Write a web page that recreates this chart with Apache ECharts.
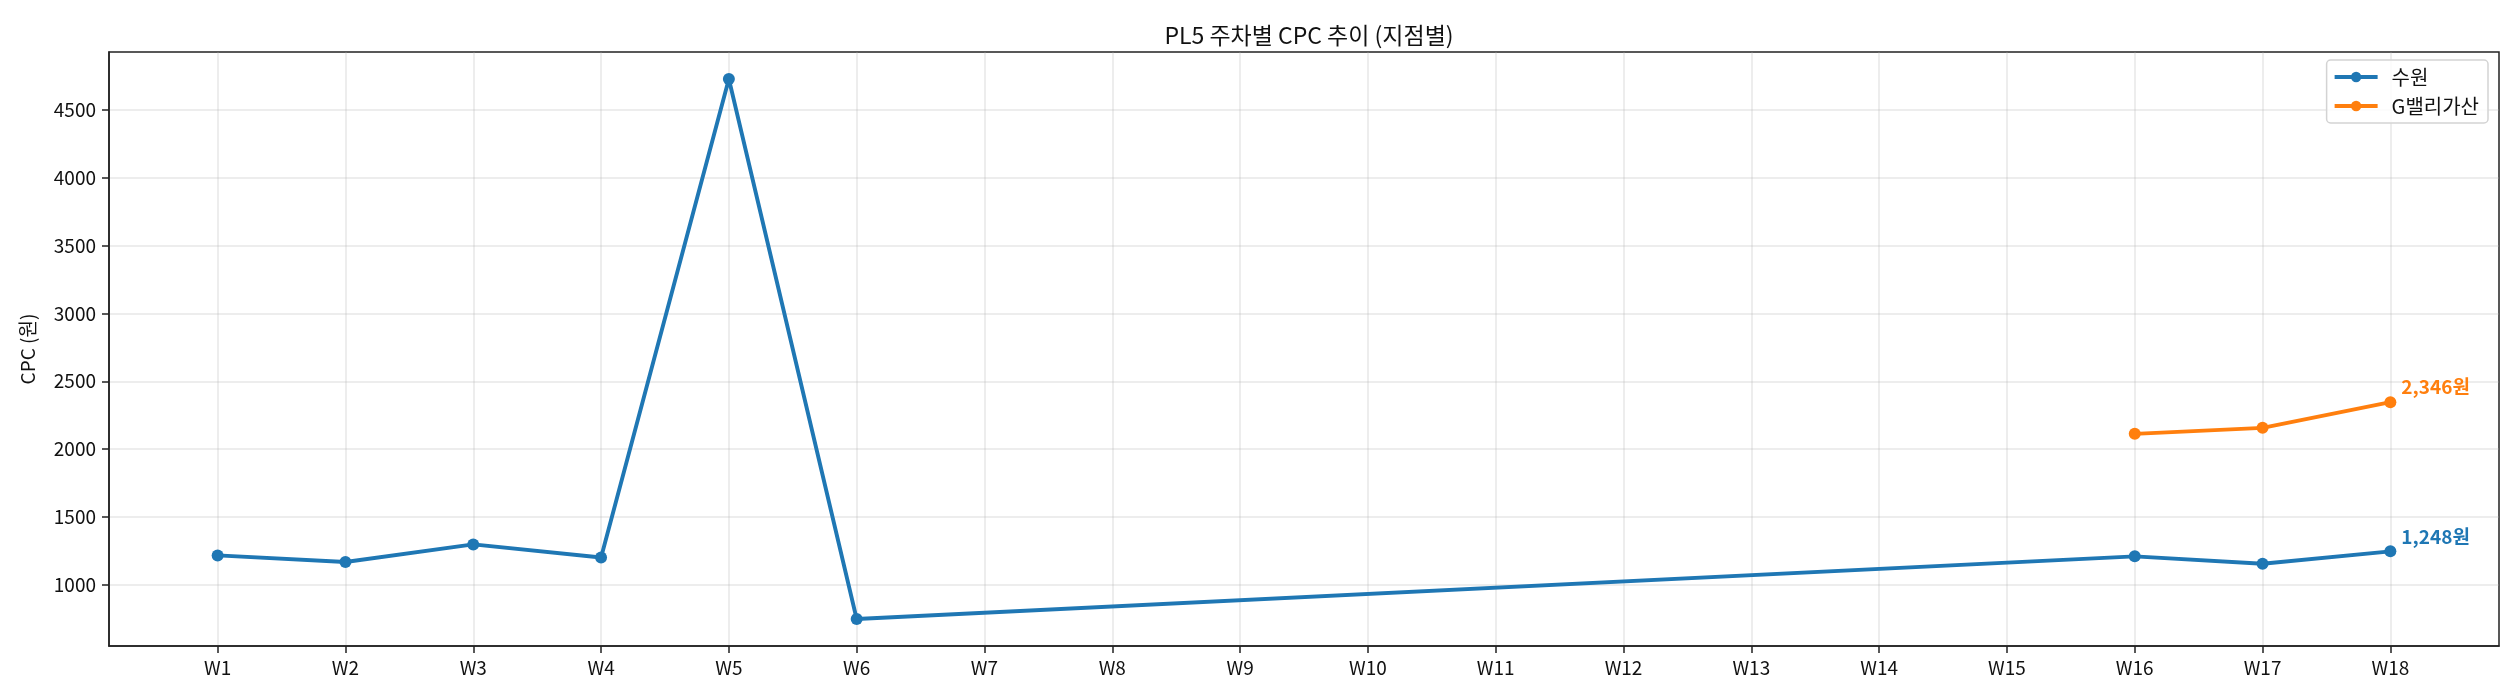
<!DOCTYPE html>
<html>
<head>
<meta charset="utf-8">
<script src="https://cdn.jsdelivr.net/npm/echarts@6/dist/echarts.min.js"></script>
<style>
html,body{margin:0;padding:0;background:#fff;}
#chart{width:2520px;height:700px;}
</style>
</head>
<body>
<div id="chart"></div>
<script>
const weeks = ['W1','W2','W3','W4','W5','W6','W7','W8','W9','W10','W11','W12','W13','W14','W15','W16','W17','W18'];
const suwon = [1218,1169,1299,1203,4725,750,null,null,null,null,null,null,null,null,null,1211,1157,1248];
const gvalley = [null,null,null,null,null,null,null,null,null,null,null,null,null,null,null,2113,2157,2346];
const yTicks = [1000,1500,2000,2500,3000,3500,4000,4500];
const seriesNames = ['수원','G밸리가산'];
const colors = ['#1f77b4','#ff7f0e'];

const FONT = '"Noto Sans CJK KR", "Noto Sans", sans-serif';
const xIdx = weeks.map((w,i)=>i);
function pairs(arr){ return arr.map((v,i)=>[i,v]).filter(d=>d[1]!=null); }
function fmt(v){ return String(v).replace(/\B(?=(\d{3})+(?!\d))/g, ',') + '원'; }

function makeSeries(name, arr, color){
  const d = pairs(arr);
  const last = d.length - 1;
  return {
    name: name, type: 'line', data: d,
    symbol: 'circle', symbolSize: 12,
    lineStyle: {width: 3.9, color: color},
    itemStyle: {color: color},
    emphasis: {disabled: true},
    label: {
      show: true, position: 'right', distance: 5, offset: [0,-15],
      color: color, fontWeight: 'bold', fontSize: 19, fontFamily: FONT,
      formatter: p => p.dataIndex === last ? fmt(p.value[1]) : ''
    }
  };
}

const chart = echarts.init(document.getElementById('chart'));
chart.setOption({
  animation: false,
  backgroundColor: '#fff',
  title: {
    text: 'PL5 주차별 CPC 추이 (지점별)',
    left: 1304, top: 19, textAlign: 'center',
    textStyle: {fontSize: 23, fontWeight: 'normal', color: '#111', fontFamily: FONT}
  },
  grid: {left: 109, right: 21, top: 52, bottom: 54, show: true, borderColor: '#222', borderWidth: 1.5, backgroundColor: 'transparent'},
  legend: {
    data: seriesNames, orient: 'vertical', right: 32, top: 60,
    itemWidth: 43, itemHeight: 13, itemGap: 9,
    padding: [7, 9, 7, 6],
    borderColor: '#d3d3d3', borderWidth: 1.5, borderRadius: 4,
    backgroundColor: 'rgba(255,255,255,0.8)',
    lineStyle: {width: 4},
    textStyle: {fontSize: 20, color: '#111', fontFamily: FONT, padding: [0,0,0,9]}
  },
  xAxis: {
    type: 'value', min: -0.85, max: 17.85, splitNumber: 18,
    axisLine: {show: true, onZero: false, lineStyle: {color: '#222', width: 1.5}},
    axisTick: {show: true, customValues: xIdx, length: 7, lineStyle: {color: '#222', width: 1.5}},
    axisLabel: {customValues: xIdx, margin: 12, fontSize: 19, color: '#111', fontFamily: FONT,
      formatter: v => { const r = Math.round(v); return Math.abs(v - r) < 1e-6 ? (weeks[r] || '') : ''; }},
    splitLine: {show: true, lineStyle: {color: 'rgba(176,176,176,0.3)', width: 1.5}}
  },
  yAxis: {
    type: 'value', min: 551, max: 4924, splitNumber: 8,
    name: 'CPC (원)', nameLocation: 'middle', nameGap: 72,
    nameTextStyle: {fontSize: 19, color: '#111', fontFamily: FONT},
    axisLine: {show: true, onZero: false, lineStyle: {color: '#222', width: 1.5}},
    axisTick: {show: true, customValues: yTicks, length: 7, lineStyle: {color: '#222', width: 1.5}},
    axisLabel: {customValues: yTicks, margin: 13, fontSize: 19, color: '#111', fontFamily: FONT,
      formatter: v => (v % 500 === 0 ? String(v) : '')},
    splitLine: {show: true, lineStyle: {color: 'rgba(176,176,176,0.3)', width: 1.5}}
  },
  series: [
    makeSeries(seriesNames[0], suwon, colors[0]),
    makeSeries(seriesNames[1], gvalley, colors[1])
  ]
});
</script>
</body>
</html>
